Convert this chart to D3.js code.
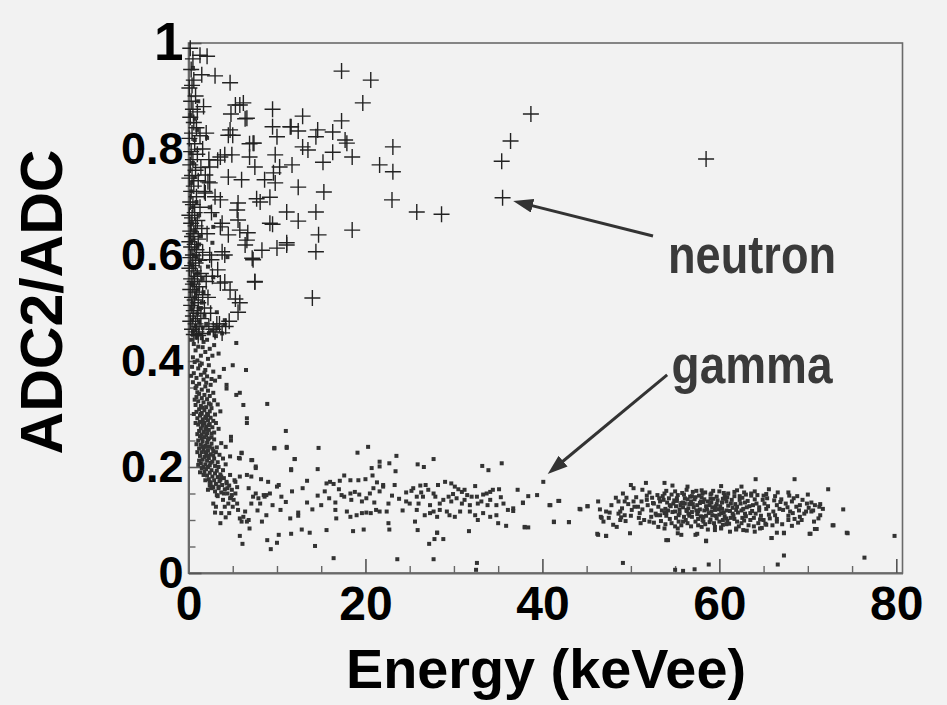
<html lang='en'>
<head>
<meta charset='utf-8'>
<title>ADC2/ADC vs Energy</title>
<script src="https://d3js.org/d3.v7.min.js"></script>
<style>
  body { margin: 0; background: #f2f2f2; }
  text { font-family: 'Liberation Sans', Arial, sans-serif; font-weight: bold; }
</style>
</head>
<body>
<script>
var width = 947;
var height = 705;

// axis ticks
var xTicks = [0, 20, 40, 60, 80];
var xMinor = [5, 10, 15, 25, 30, 35, 45, 50, 55, 65, 70, 75];
var yTicks = [0, 0.2, 0.4, 0.6, 0.8, 1];
var yLabels = ['0', '0.2', '0.4', '0.6', '0.8', '1'];
var yMinor = [0.05, 0.1, 0.15, 0.25, 0.3, 0.35, 0.45, 0.5, 0.55, 0.65, 0.7, 0.75, 0.85, 0.9, 0.95];

// neutron events [energy keVee, ADC2/ADC]
var neutronOuter = [[1.3,0.977],[2.1,0.975],[3.0,0.938],[4.7,0.925],
  [17.3,0.947],[20.6,0.930],[19.7,0.887],[17.3,0.853],[12.9,0.862],[14.6,0.836],[16.3,0.832],[14.4,0.823],
  [17.7,0.817],[17.9,0.811],[12.9,0.804],[13.5,0.798],[16.3,0.794],[18.5,0.785],[15.2,0.775],[23.1,0.804],
  [21.6,0.77],[23.1,0.757],[15.3,0.719],[23.0,0.704],[25.8,0.681],[28.6,0.677],[14.4,0.681],[18.5,0.647],
  [14.7,0.638],[14.4,0.606],[14.0,0.519],
  [38.7,0.866],[36.4,0.815],[35.4,0.777],[35.5,0.708],[58.5,0.781]];
var neutronMid = [[9.5,0.875],[6.2,0.887],[5.3,0.883],[6.4,0.857],[4.8,0.866],[9.5,0.842],[11.6,0.842],
  [12.4,0.834],[10.0,0.823],[7.4,0.811],[6.9,0.81],[4.5,0.826],[5.0,0.826],[9.8,0.789],[10.3,0.766],
  [11.7,0.77],[6.9,0.785],[7.5,0.766],[4.1,0.789],[4.9,0.789],[3.3,0.779],[2.4,0.766],[4.5,0.747],
  [6.0,0.742],[8.6,0.742],[9.8,0.736],[12.4,0.728],[1.9,0.751],[2.4,0.736],
  [11.1,0.681],[12.4,0.664],[9.5,0.658],[9.2,0.66],[6.7,0.642],[6.4,0.619],[11.1,0.619],[10.0,0.613],
  [8.3,0.609],[7.2,0.594],[7.5,0.549],[5.3,0.517],[5.6,0.492],[5.6,0.666],[3.8,0.66],[5.6,0.698],
  [7.7,0.706],[9.2,0.709],[3.6,0.704],[1.9,0.717],[4.5,0.638],[3.8,0.606],[3.3,0.572],[4.1,0.549],
  [2.6,0.591],[5.8,0.883],[6.6,0.858],[4.7,0.836],[7.3,0.811],[3.6,0.785],[11.5,0.842],[9.6,0.755],
  [2.2,0.738],[3.0,0.71],[5.5,0.685],[8.1,0.70],[3.6,0.653],[5.8,0.647],[6.6,0.628],[11.1,0.623],
  [7.3,0.591],[4.1,0.60],[3.6,0.547],[4.7,0.534],[5.8,0.51],[7.5,0.55],[3.8,0.453],[3.5,0.47],
  [4.2,0.465],[3.0,0.455],[4.6,0.475]];
var neutronEdge = [[0.2,0.99],[0.5,0.97],[0.3,0.95],[0.6,0.93],[0.4,0.92],[0.1,0.915],[0.8,0.90],[0.3,0.89],
  [0.5,0.875],[1.0,0.87],[0.2,0.86],[0.6,0.85],[0.9,0.84],[0.4,0.83],[1.3,0.825],[0.1,0.82],[0.7,0.81],
  [1.6,0.80],[0.3,0.795],[1.0,0.79],[0.5,0.78],[0.2,0.77],[1.4,0.765],[0.8,0.76],[0.4,0.75],[0.1,0.745],
  [1.1,0.74],[0.6,0.73],[0.3,0.72],[1.8,0.72],[0.9,0.71],[0.2,0.70],[0.5,0.695],[1.3,0.69],[0.7,0.68],
  [0.1,0.675],[0.4,0.67],[1.0,0.665],[0.3,0.66],[0.8,0.655],[1.5,0.65],[0.2,0.645],[0.6,0.64],[0.4,0.635],
  [1.1,0.63],[0.1,0.625],[0.7,0.62],[0.3,0.615],[0.9,0.61],[1.6,0.605],[0.5,0.60],[0.2,0.595],[1.2,0.59],
  [0.8,0.585],[0.4,0.58],[0.1,0.575],[0.6,0.57],[1.4,0.565],[1.0,0.56],[0.3,0.555],[0.7,0.55],[2.0,0.55],
  [0.5,0.545],[1.2,0.54],[0.2,0.535],[0.9,0.53],[1.6,0.525],[0.4,0.52],[0.7,0.515],[1.1,0.51],[0.3,0.505],
  [1.8,0.50],[0.6,0.495],[1.0,0.49],[0.5,0.485],[1.4,0.48],[0.2,0.475],[0.8,0.47],[1.2,0.465],[2.3,0.465],
  [0.4,0.46],[0.9,0.455],[1.6,0.452],[0.6,0.45],[1.1,0.448],[2.8,0.46],[3.2,0.47],[2.5,0.49],[2.2,0.52],
  [2.7,0.56],[2.4,0.60],[2.1,0.64],[2.6,0.68],[2.3,0.78],[2.0,0.83],[1.7,0.88],[1.5,0.94]];

// gamma events [energy keVee, ADC2/ADC]
var gammaUpper = [[0.5,0.953],[1.1,0.89],[0.2,0.864],[0.7,0.857],[2.1,0.821],[1.0,0.836],[0.7,0.817],
  [0.2,0.792],[0.5,0.774],[0.7,0.747],[0.4,0.736],[2.4,0.69],[3.0,0.675],[2.8,0.653],[2.7,0.623],
  [2.2,0.578],[4.4,0.596],[4.1,0.477],[3.2,0.492],[3.3,0.464],[2.8,0.558],[0.3,0.72],[0.9,0.70],
  [0.5,0.69],[1.2,0.675],[0.4,0.66],[0.8,0.645],[1.4,0.635],[0.3,0.625],[1.0,0.615],[0.6,0.6],
  [1.3,0.59],[0.4,0.58],[0.9,0.565],[1.6,0.555],[0.5,0.545],[1.1,0.535],[0.7,0.52],[1.5,0.51],
  [0.3,0.5],[1.0,0.49],[1.8,0.485],[1.2,0.62],[0.8,0.53],[1.4,0.5],[0.5,0.51],[1.7,0.53],[1.1,0.565],
  [0.9,0.595]];
var gammaKnee = [[0.4,0.478],[1.2,0.474],[2.0,0.47],[0.8,0.466],[1.6,0.462],[2.6,0.458],[0.5,0.455],
  [1.3,0.45],[3.1,0.447],[0.9,0.444],[2.1,0.44],[1.7,0.436],[0.6,0.432],[2.9,0.43],[1.1,0.427],[2.4,0.423],
  [0.8,0.42],[1.9,0.417],[3.4,0.414],[1.4,0.41],[0.5,0.407],[2.2,0.404],[1.0,0.401],[2.7,0.41],[1.6,0.426],
  [0.3,0.44],[3.8,0.452],[4.1,0.468],[2.3,0.452],[1.5,0.443],
  [0.7,0.398],[1.5,0.395],[2.3,0.392],[0.4,0.389],[1.1,0.386],[1.9,0.383],[2.8,0.38],[0.6,0.377],
  [1.4,0.374],[2.1,0.371],[0.9,0.368],[1.7,0.365],[3.0,0.363],[0.5,0.36],[1.2,0.357],[2.5,0.355],
  [1.9,0.352],[0.8,0.349],[1.5,0.346],[2.2,0.344],[1.0,0.341],[2.8,0.34],[3.5,0.37],[0.3,0.372],
  [1.3,0.392],[2.6,0.366],[1.8,0.378],[4.0,0.385],[0.9,0.353],[2.0,0.359],
  [1.2,0.338],[1.8,0.336],[2.4,0.334],[0.9,0.332],[1.5,0.33],[2.1,0.328],[2.9,0.326],[1.1,0.324],
  [1.7,0.322],[2.3,0.32],[3.3,0.318],[0.8,0.317],[1.4,0.315],[2.0,0.313],[2.6,0.311],[1.2,0.309],
  [1.8,0.307],[2.4,0.305],[0.9,0.304],[1.5,0.302],[2.1,0.3],[3.0,0.299],[1.3,0.297],[1.9,0.295],
  [2.5,0.293],[1.0,0.292],[1.6,0.29],[2.2,0.288],[2.8,0.287],[1.3,0.285],[1.8,0.283],[2.4,0.281],
  [1.1,0.28],[1.6,0.278],[2.0,0.276],[2.7,0.275],[1.4,0.273],[1.9,0.271],[2.3,0.27],[3.4,0.272],
  [1.2,0.268],[1.7,0.266],[2.1,0.264],[2.6,0.263],[1.5,0.261],[2.0,0.26],[0.7,0.327],[0.6,0.3],
  [0.8,0.283],[3.6,0.305],[3.1,0.283],[2.9,0.265],[1.0,0.262],[2.5,0.318],[1.6,0.312],[2.2,0.298],
  [1.7,0.284],[2.0,0.292],[1.4,0.3],[2.3,0.279],
  [1.3,0.258],[1.8,0.256],[2.3,0.254],[2.9,0.252],[1.1,0.25],[1.6,0.248],[2.1,0.246],[2.6,0.244],
  [1.4,0.242],[1.9,0.24],[2.4,0.238],[3.2,0.237],[1.2,0.235],[1.7,0.233],[2.2,0.231],[2.8,0.23],
  [1.5,0.228],[2.0,0.226],[2.5,0.224],[3.5,0.223],[1.3,0.221],[1.8,0.219],[2.3,0.217],[2.9,0.216],
  [1.6,0.214],[2.1,0.212],[2.7,0.21],[3.3,0.209],[1.4,0.207],[1.9,0.205],[2.4,0.203],[3.0,0.202],
  [1.7,0.2],[2.2,0.252],[2.7,0.235],[1.0,0.228],[3.9,0.216],[1.2,0.212],[3.7,0.245],[2.0,0.238],
  [2.5,0.208],[1.5,0.254],[2.8,0.222],[0.9,0.243],[1.9,0.228],[3.1,0.228],[2.2,0.221],[1.6,0.238],
  [2.6,0.256],[4.2,0.205],[3.4,0.2],[1.1,0.204],
  [1.5,0.198],[2.0,0.196],[2.6,0.194],[3.2,0.193],[1.8,0.191],[2.4,0.189],[3.0,0.188],[3.6,0.186],
  [2.1,0.184],[2.7,0.182],[3.3,0.181],[4.0,0.179],[2.3,0.177],[2.9,0.175],[3.5,0.173],[4.3,0.172],
  [2.5,0.17],[3.1,0.168],[3.8,0.166],[4.6,0.165],[2.8,0.162],[3.4,0.16],[4.1,0.158],[4.9,0.157],
  [3.0,0.154],[3.7,0.152],[4.4,0.15],[1.7,0.185],[2.2,0.2],[3.9,0.194],[4.7,0.185],[5.2,0.175],
  [5.5,0.162],[1.9,0.175],[2.6,0.16],[3.3,0.145],[4.8,0.142],[2.4,0.165],[3.6,0.176],[1.3,0.19]];
var gammaTail = [[5.4,0.434],[5.0,0.392],[6.5,0.383],[5.4,0.336],[5.8,0.34],[6.2,0.317],[8.9,0.319],
  [6.6,0.292],[6.6,0.283],[11.0,0.268],[9.7,0.236],[11.1,0.238],[12.0,0.215],[4.3,0.355],[4.3,0.348],
  [4.8,0.257],[4.8,0.25],[4.2,0.238],[6.0,0.226],[5.7,0.217],[7.2,0.213],[7.6,0.198],[11.6,0.196],
  [2.8,0.131],[3.0,0.114],[3.6,0.094],[3.7,0.113],[4.1,0.125],[4.6,0.113],[4.5,0.131],[4.7,0.141],
  [4.9,0.147],[5.1,0.138],[5.3,0.150],[5.5,0.131],[5.6,0.119],[5.8,0.103],[6.0,0.097],[6.2,0.106],
  [6.4,0.116],[6.6,0.097],[6.8,0.100],[6.9,0.084],[7.1,0.131],[7.3,0.144],[7.6,0.150],[7.9,0.141],
  [8.1,0.131],[8.3,0.097],[8.5,0.147],[8.6,0.144],[8.8,0.109],[5.3,0.172],[5.8,0.182],[6.6,0.185],
  [7.1,0.182],[7.1,0.213],[7.6,0.201],[8.2,0.177],[4.7,0.22],[5.8,0.216],[6.0,0.227],[3.7,0.182],
  [4.3,0.169],[3.4,0.163],[4.0,0.150],[2.6,0.163],[2.2,0.157],[2.4,0.172],[3.2,0.147],[9.2,0.150],
  [8.8,0.147],[9.5,0.128],[10.0,0.163],[3.9,0.138],[4.4,0.16],[5.0,0.125],[6.8,0.16],[7.8,0.118],
  [9.0,0.172],[3.1,0.125],[4.2,0.105]];
var gammaBand = [[17.6,0.184],[16.0,0.172],[13.4,0.174],[15.6,0.169],[16.4,0.168],[17.1,0.174],
  [18.3,0.175],[19.2,0.175],[20.0,0.177],[20.8,0.184],[22.0,0.166],[21.3,0.171],[23.3,0.166],[25.2,0.155],
  [24.6,0.152],[25.4,0.160],[26.2,0.165],[26.8,0.166],[27.7,0.150],[28.2,0.166],[29.0,0.172],[29.7,0.169],
  [30.1,0.163],[30.5,0.158],[30.9,0.153],[31.2,0.157],[32.4,0.164],[32.0,0.144],[33.3,0.148],[33.7,0.150],
  [34.1,0.153],[34.4,0.157],[35.1,0.158],
  [14.6,0.146],[15.4,0.154],[15.0,0.128],[16.6,0.133],[17.3,0.147],[17.6,0.144],[18.3,0.150],[18.8,0.153],
  [18.4,0.138],[19.6,0.135],[20.1,0.141],[20.5,0.150],[20.9,0.160],[21.6,0.154],[22.0,0.163],[22.6,0.131],
  [23.0,0.146],[24.6,0.135],[25.0,0.131],[25.8,0.144],[26.0,0.131],[26.5,0.144],[27.1,0.157],[27.3,0.128],
  [27.9,0.144],[28.4,0.131],[28.8,0.138],[29.4,0.144],[29.7,0.135],[30.3,0.141],[30.9,0.131],[31.2,0.138],
  [31.8,0.128],[32.6,0.144],[32.7,0.131],[33.1,0.135],[34.1,0.138],[34.8,0.128],[35.6,0.131],[36.1,0.119],
  [36.7,0.117],[37.8,0.133],
  [10.5,0.144],[10.2,0.166],[11.7,0.154],[13.4,0.133],[10.4,0.119],[11.5,0.103],[12.4,0.114],[12.4,0.108],
  [16.6,0.119],[16.7,0.103],[17.9,0.116],[18.3,0.106],[19.0,0.109],[19.6,0.113],[20.1,0.114],[20.6,0.113],
  [21.2,0.119],[21.6,0.116],[22.4,0.116],[22.6,0.094],[25.6,0.097],[25.8,0.119],[26.7,0.109],[27.3,0.113],
  [27.7,0.116],[28.1,0.106],[28.4,0.119],[29.2,0.116],[29.5,0.109],[30.1,0.106],[30.7,0.116],[31.8,0.116],
  [32.4,0.109],[32.7,0.100],[33.3,0.113],[34.1,0.106],[34.8,0.109],[35.0,0.094],[35.9,0.089],[36.7,0.122],
  [12.8,0.082],[13.7,0.076],[15.6,0.081],[18.6,0.079],[19.8,0.082],[22.7,0.082],[25.9,0.081],[28.1,0.076],
  [31.7,0.079],[38.0,0.086],[38.4,0.086],
  [9.7,0.235],[11.1,0.236],[14.7,0.236],[20.3,0.238],[19.1,0.227],[23.5,0.221],[22.7,0.207],[21.6,0.210],
  [21.6,0.201],[20.7,0.198],[27.7,0.215],[25.9,0.205],[26.6,0.2],[33.2,0.202],[33.9,0.194],[35.4,0.207],
  [12.0,0.215],[14.6,0.196],[11.6,0.194],[23.4,0.192],[40.1,0.172],
  [37.2,0.157],[38.4,0.145],[39.4,0.147],[37.8,0.132],[40.8,0.128],[41.9,0.136],[41.3,0.096],[43.0,0.096],
  [38.0,0.087],[11.0,0.134],[12.9,0.16],[14.0,0.12],[15.9,0.141],[17.0,0.158],[19.3,0.148],[21.0,0.133],
  [23.8,0.14],[24.2,0.118],[26.3,0.152],[29.9,0.149],[31.5,0.147],[33.8,0.128],[35.3,0.143]];
var gammaCluster = [[50.0,0.166],[51.7,0.170],[53.8,0.170],[54.7,0.165],[56.4,0.163],[60.2,0.164],
  [49.1,0.150],[50.3,0.160],[51.3,0.157],[53.8,0.150],[55.2,0.141],[56.3,0.157],[57.4,0.155],[58.4,0.152],
  [59.1,0.150],[59.7,0.144],[60.6,0.147],[48.6,0.135],[49.3,0.135],[50.3,0.135],[50.8,0.125],[51.8,0.138],
  [52.5,0.132],[53.3,0.135],[54.4,0.128],[55.7,0.132],[56.8,0.135],[57.8,0.132],[58.7,0.135],[60.8,0.135],
  [46.3,0.135],[46.5,0.120],[47.2,0.116],[47.6,0.114],[46.6,0.106],[46.9,0.097],[48.0,0.091],[48.8,0.100],
  [48.8,0.116],[49.3,0.109],[50.1,0.119],[51.0,0.113],[52.3,0.106],[52.9,0.109],[53.8,0.113],[55.0,0.116],
  [55.4,0.109],[56.3,0.119],[56.9,0.106],[57.6,0.116],[58.2,0.106],[59.1,0.116],[59.7,0.103],[60.2,0.113],
  [60.8,0.103],[52.1,0.097],[53.1,0.087],[53.8,0.084],[55.3,0.084],[55.9,0.097],[58.0,0.087],[59.5,0.081],
  [58.2,0.097],[60.4,0.091],[48.4,0.087],[49.9,0.075],[51.1,0.094],[46.3,0.072],[47.2,0.070],[54.2,0.062],
  [58.5,0.061],[57.3,0.072],[55.7,0.072],[45.1,0.126],[44.3,0.120],[43.0,0.096],[41.3,0.097],[41.8,0.136],
  [40.9,0.128],[44.2,0.121],[45.1,0.126],[46.7,0.104],
  [64.1,0.177],[68.5,0.177],[72.3,0.158],[74.0,0.120],[72.9,0.09],[74.4,0.076],[79.8,0.07],[62.5,0.163],
  [65.6,0.158],[67.8,0.152],[68.8,0.145],[70.0,0.148],[63.6,0.150],[65.3,0.149],[66.3,0.145],[67.0,0.139],
  [68.2,0.135],[69.1,0.128],[70.4,0.133],[71.4,0.130],[71.7,0.121],[70.4,0.116],[69.8,0.116],[69.1,0.106],
  [69.3,0.100],[68.3,0.113],[67.8,0.100],[68.2,0.089],[67.2,0.119],[66.5,0.128],[66.3,0.109],[65.7,0.103],
  [66.5,0.097],[65.3,0.091],[64.6,0.084],[64.0,0.078],[62.7,0.081],[61.9,0.084],[61.2,0.078],[60.2,0.084],
  [65.9,0.066],[66.5,0.076],[67.3,0.076],[70.2,0.074],[71.0,0.083],[71.2,0.103],[71.4,0.109],[54.0,0.062],
  [58.5,0.06],[65.9,0.066],[67.3,0.075],[70.3,0.074],[70.8,0.083],[57.5,0.074],[55.3,0.075],[74.5,0.075],
  [72.8,0.09],
  [52.4,0.142],[53.1,0.125],[53.7,0.138],[54.2,0.118],[54.8,0.131],[55.3,0.147],[55.9,0.124],[56.4,0.139],
  [56.9,0.115],[57.5,0.128],[58.0,0.143],[58.6,0.12],[59.1,0.133],[59.6,0.108],[60.1,0.126],[60.7,0.141],
  [61.2,0.117],[61.8,0.13],[62.3,0.145],[62.9,0.112],[63.4,0.126],[64.0,0.139],[64.5,0.118],[65.1,0.131],
  [65.6,0.11],[52.8,0.112],[53.4,0.098],[54.0,0.108],[54.6,0.094],[55.1,0.104],[55.7,0.09],[56.2,0.1],
  [56.8,0.088],[57.3,0.097],[57.9,0.107],[58.4,0.092],[59.0,0.101],[59.5,0.087],[60.0,0.097],[60.6,0.107],
  [61.1,0.093],[61.7,0.102],[62.2,0.088],[62.8,0.099],[63.3,0.09],[63.9,0.104],[64.4,0.094],[65.0,0.1],
  [52.1,0.152],[53.0,0.147],[54.0,0.155],[55.0,0.154],[56.0,0.148],[57.0,0.153],[58.0,0.156],[59.0,0.148],
  [60.0,0.154],[61.0,0.15],[62.0,0.156],[63.0,0.148],[64.0,0.154],[65.0,0.146],[53.5,0.118],[54.5,0.126],
  [55.5,0.113],[56.5,0.122],[57.5,0.111],[58.5,0.126],[59.5,0.119],[60.5,0.114],[61.5,0.123],[62.5,0.118],
  [63.5,0.113],[64.5,0.124],[55.2,0.136],[56.1,0.131],[57.2,0.139],[58.2,0.134],[59.3,0.14],[60.3,0.133],
  [61.4,0.138],[62.4,0.131],[63.2,0.136],[61.0,0.127],[59.9,0.12],[58.8,0.113],[57.8,0.12],[60.4,0.1],
  [61.6,0.109],[62.7,0.121],[63.8,0.128],[59.4,0.094],[58.1,0.1],[56.6,0.108],[55.4,0.097],[54.3,0.141],
  [62.0,0.097],[63.6,0.146],[60.9,0.143],[57.7,0.146],[56.3,0.117],[60.2,0.086],[61.9,0.082],[58.7,0.082],
  [47.8,0.128],[48.3,0.142],[49.0,0.122],[49.7,0.13],[50.6,0.143],[51.3,0.12],[51.9,0.128],[50.0,0.108],
  [51.5,0.1],[49.4,0.098],[47.5,0.104],[48.6,0.112],[66.2,0.137],[66.8,0.121],[67.5,0.131],[68.0,0.116],
  [68.7,0.125],[69.4,0.138],[70.1,0.123],[70.8,0.128],[66.0,0.09],[67.1,0.092],[68.5,0.102],[69.6,0.112],
  [65.4,0.141],[66.6,0.152],[67.9,0.146],[64.8,0.085],[63.1,0.08]];
var gammaCore = [[52.6,0.131],[53.2,0.141],[53.9,0.121],[54.4,0.102],[54.9,0.137],[55.6,0.128],[56.0,0.106],
  [56.7,0.144],[57.1,0.124],[57.6,0.102],[58.3,0.139],[58.9,0.128],[59.2,0.109],[59.8,0.137],[60.3,0.121],
  [60.9,0.098],[61.3,0.131],[61.7,0.145],[62.1,0.114],[62.6,0.104],[63.1,0.124],[63.7,0.117],[64.2,0.131],
  [64.7,0.108],[65.3,0.121],[53.3,0.109],[54.1,0.133],[54.7,0.115],[55.5,0.12],[56.1,0.141],[56.6,0.13],
  [57.4,0.118],[57.9,0.135],[58.5,0.108],[59.2,0.124],[59.7,0.13],[60.4,0.14],[60.8,0.118],[61.5,0.112],
  [62.0,0.125],[62.9,0.133],[63.5,0.1],[64.1,0.112],[64.9,0.138],[65.5,0.126],[53.6,0.145],[54.6,0.148],
  [55.8,0.151],[56.9,0.145],[58.1,0.15],[59.3,0.155],[60.5,0.151],[61.7,0.153],[62.8,0.152],[64.3,0.147],
  [53.9,0.092],[55.0,0.088],[56.4,0.094],[57.6,0.09],[58.9,0.096],[60.8,0.092],[62.5,0.094],[63.9,0.088],
  [65.2,0.093],[51.2,0.135],[51.8,0.146],[52.3,0.118],[50.4,0.125],[49.5,0.142],[48.9,0.105],[50.9,0.104],
  [52.6,0.095],[66.1,0.116],[66.9,0.134],[67.7,0.124],[68.4,0.141],[69.0,0.118],[69.9,0.131],[70.6,0.118],
  [71.3,0.125],[66.5,0.102],[67.8,0.108],[68.9,0.095],[70.7,0.097],[55.9,0.133],[57.0,0.13],[58.3,0.118],
  [59.0,0.14],[60.0,0.11],[61.3,0.104],[62.3,0.138],[63.0,0.107],[64.6,0.101],[61.9,0.119],[57.3,0.143],
  [55.1,0.126],[54.0,0.114],[56.5,0.112],[59.6,0.126],[62.6,0.142]];
var gammaLow = [[16.4,0.028],[23.6,0.026],[27.7,0.026],[32.6,0.019],[9.3,0.045],[8.9,0.062],[10.0,0.057],
  [5.8,0.07],[6.1,0.055],[14.3,0.051],[10.2,0.072],[11.6,0.074],[27.2,0.055],[27.8,0.064],[28.8,0.064],
  [28.1,0.076],[46.2,0.074],[47.2,0.07],[49.1,0.019],[55.0,0.006],[55.9,0.004],[57.2,0.007],[58.8,0.016],
  [66.6,0.016],[67.3,0.033],[76.4,0.029],[32.5,0.006]];

// annotations: label position, arrow tail, arrow tip (data units)
var annLabels = ['neutron', 'gamma'];
var annText = [[54.2, 0.566], [54.6, 0.358]];
var annTail = [[52.5, 0.636], [54.1, 0.374]];
var annTip = [[36.7, 0.702], [40.6, 0.187]];
var annWidth = [168, 161];

var x = d3.scaleLinear().domain([0, 80.7]).range([188.5, 902.5]);
var y = d3.scaleLinear().domain([0, 1]).range([573, 43]);

var svg = d3.select('body')
            .append('svg')
            .attr('width', width)
            .attr('height', height);

svg.append('rect')
   .attr('width', width)
   .attr('height', height)
   .attr('fill', '#f2f2f2');

// frame
svg.append('rect')
   .attr('x', x(0))
   .attr('y', y(1))
   .attr('width', x(80.7) - x(0))
   .attr('height', y(0) - y(1))
   .attr('fill', 'none')
   .attr('stroke', '#6a6a6a')
   .attr('stroke-width', 1.6);

// minor ticks
svg.append('g')
   .attr('transform', 'translate(0,' + y(0) + ')')
   .call(d3.axisBottom(x).tickValues(xMinor).tickSize(-7).tickSizeOuter(0).tickFormat(''))
   .call(g => g.select('.domain').remove())
   .selectAll('line').attr('stroke', '#666').attr('stroke-width', 1.4);
svg.append('g')
   .attr('transform', 'translate(' + x(0) + ',0)')
   .call(d3.axisLeft(y).tickValues(yMinor).tickSize(-7).tickSizeOuter(0).tickFormat(''))
   .call(g => g.select('.domain').remove())
   .selectAll('line').attr('stroke', '#666').attr('stroke-width', 1.4);

// major ticks + labels
var xAxis = svg.append('g')
   .attr('transform', 'translate(0,' + y(0) + ')')
   .call(d3.axisBottom(x).tickValues(xTicks).tickSize(-14).tickSizeOuter(0).tickPadding(13))
   .call(g => g.select('.domain').attr('stroke', '#6a6a6a').attr('stroke-width', 2));
xAxis.selectAll('line').attr('stroke', '#555').attr('stroke-width', 1.6);
xAxis.selectAll('text')
     .attr('fill', '#000')
     .style('font-size', '48px')
     .style('font-family', "'Liberation Sans', Arial, sans-serif")
     .style('font-weight', 'bold');

var yAxis = svg.append('g')
   .attr('transform', 'translate(' + x(0) + ',0)')
   .call(d3.axisLeft(y).tickValues(yTicks).tickSize(-13).tickSizeOuter(0).tickPadding(5)
           .tickFormat(function(d, i) { return yLabels[i]; }))
   .call(g => g.select('.domain').attr('stroke', '#6a6a6a').attr('stroke-width', 2));
yAxis.selectAll('line').attr('stroke', '#555').attr('stroke-width', 1.6);
yAxis.selectAll('text')
     .attr('fill', '#000')
     .style('font-size', function(d) { return d === 1 ? '53px' : '45px'; })
     .style('font-family', "'Liberation Sans', Arial, sans-serif")
     .style('font-weight', 'bold');

// gamma points
var gammaAll = gammaUpper.concat(gammaKnee, gammaTail, gammaBand, gammaCluster, gammaCore, gammaLow);
svg.append('g')
   .selectAll('rect')
   .data(gammaAll)
   .enter()
   .append('rect')
   .attr('x', function(d) { return x(d[0]) - 2; })
   .attr('y', function(d) { return y(d[1]) - 2; })
   .attr('width', 4)
   .attr('height', 4)
   .attr('fill', '#333');

// neutron crosses
var neutronAll = neutronOuter.concat(neutronMid, neutronEdge);
svg.append('g')
   .selectAll('path')
   .data(neutronAll)
   .enter()
   .append('path')
   .attr('d', 'M-8,0H8M0,-8V8')
   .attr('transform', function(d) { return 'translate(' + x(d[0]) + ',' + y(d[1]) + ')'; })
   .attr('stroke', '#222')
   .attr('stroke-width', 1.4)
   .attr('fill', 'none');

// arrows
svg.append('defs').append('marker')
   .attr('id', 'head')
   .attr('markerUnits', 'userSpaceOnUse')
   .attr('viewBox', '0 0 20 14')
   .attr('markerWidth', 20)
   .attr('markerHeight', 14)
   .attr('refX', 10)
   .attr('refY', 7)
   .attr('orient', 'auto')
   .append('path')
   .attr('d', 'M0,0L20,7L0,14z')
   .attr('fill', '#333');

annLabels.forEach(function(lbl, i) {
    var x1 = x(annTail[i][0]), y1 = y(annTail[i][1]);
    var x2 = x(annTip[i][0]), y2 = y(annTip[i][1]);
    var len = Math.sqrt((x2 - x1) * (x2 - x1) + (y2 - y1) * (y2 - y1));
    // stop the shaft so the head tip lands on the target
    var ex = x2 - (x2 - x1) / len * 10, ey = y2 - (y2 - y1) / len * 10;
    svg.append('line')
       .attr('x1', x1).attr('y1', y1)
       .attr('x2', ex).attr('y2', ey)
       .attr('stroke', '#333')
       .attr('stroke-width', 3)
       .attr('marker-end', 'url(#head)');

    svg.append('text')
       .attr('x', x(annText[i][0]))
       .attr('y', y(annText[i][1]))
       .attr('textLength', annWidth[i])
       .attr('lengthAdjust', 'spacingAndGlyphs')
       .style('font-size', '53px')
       .attr('fill', '#3a3a3a')
       .text(lbl);
});

// axis titles
svg.append('text')
   .attr('x', 546)
   .attr('y', 688)
   .attr('text-anchor', 'middle')
   .attr('textLength', 400)
   .attr('lengthAdjust', 'spacingAndGlyphs')
   .style('font-size', '56px')
   .attr('fill', '#000')
   .text('Energy (keVee)');

svg.append('text')
   .attr('transform', 'translate(62,302) rotate(-90)')
   .attr('text-anchor', 'middle')
   .attr('textLength', 305)
   .attr('lengthAdjust', 'spacingAndGlyphs')
   .style('font-size', '60px')
   .attr('fill', '#000')
   .text('ADC2/ADC');
</script>
</body>
</html>
